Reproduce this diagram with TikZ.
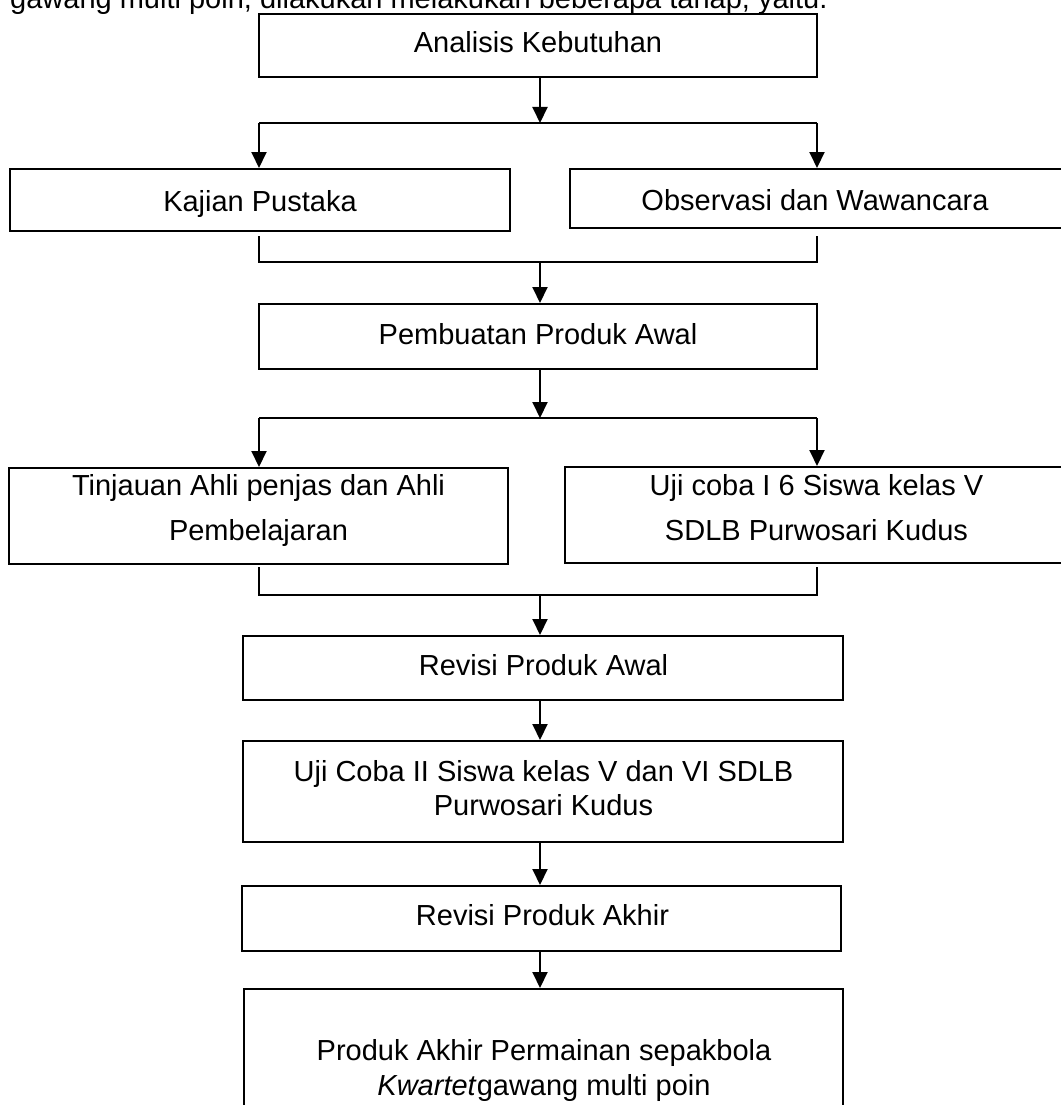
\documentclass[tikz,border=0pt]{standalone}
\usepackage{fontspec}
\setmainfont{Liberation Sans}
\usetikzlibrary{arrows.meta}
\begin{document}
\begin{tikzpicture}[x=1pt,y=-1pt,
  box/.style={draw=black,line width=2pt,rectangle,inner sep=0pt},
  txt/.style={inner sep=0pt,font=\fontsize{29}{35}\selectfont,align=center},
  conn/.style={line width=2pt},
  arr/.style={conn,-{Triangle[width=15pt,length=16pt]}}]
\useasboundingbox (0,0) rectangle (1060,1105);
% intro line (cut at the top)
\node[txt,anchor=base west] (intro) at (10,9) {gawang multi poin, dilakukan melakukan beberapa tahap, yaitu.};
% boxes
\node[box,minimum width=558pt,minimum height=63pt] (A) at (538,45.5) {};
\node[box,minimum width=500pt,minimum height=62pt] (K) at (260,200) {};
\node[box,minimum width=494pt,minimum height=59pt] (O) at (817,198.5) {};
\node[box,minimum width=558pt,minimum height=65pt] (P) at (538,336.5) {};
\node[box,minimum width=499pt,minimum height=96pt] (T) at (258.5,516) {};
\node[box,minimum width=503pt,minimum height=96pt] (U1) at (816.5,515) {};
\node[box,minimum width=600pt,minimum height=64pt] (R1) at (543,668) {};
\node[box,minimum width=600pt,minimum height=101pt] (U2) at (543,791.5) {};
\node[box,minimum width=599pt,minimum height=65pt] (R2) at (541.5,918.5) {};
\node[box,minimum width=599pt,minimum height=136pt] (F) at (543.5,1057) {};
% texts
\node[txt,anchor=base] (At) at (538,53) {Analisis Kebutuhan};
\node[txt,anchor=base] (Kt) at (260,211) {Kajian Pustaka};
\node[txt,anchor=base] (Ot) at (815,210) {Observasi dan Wawancara};
\node[txt,anchor=base] (Pt) at (538,344) {Pembuatan Produk Awal};
\node[txt,anchor=north,font=\fontsize{29}{45}\selectfont] (Tt) at (258.5,474) {Tinjauan Ahli penjas dan Ahli\\Pembelajaran};
\node[txt,anchor=north,font=\fontsize{29}{45}\selectfont] (U1t) at (816.5,474) {Uji coba I 6 Siswa kelas V\\SDLB Purwosari Kudus};
\node[txt,anchor=base] (R1t) at (543.5,675) {Revisi Produk Awal};
\node[txt,anchor=north,font=\fontsize{29}{34}\selectfont] (U2t) at (543.5,760) {Uji Coba II Siswa kelas V dan VI SDLB\\Purwosari Kudus};
\node[txt,anchor=base] (R2t) at (542.5,925) {Revisi Produk Akhir};
\node[txt,anchor=north,font=\fontsize{29}{35}\selectfont] (Ft) at (544,1039) {Produk Akhir Permainan sepakbola\\\textit{Kwartet}gawang multi poin};
% junctions
\coordinate (j1) at (540,123);
\coordinate (j1l) at (259,123);
\coordinate (j1r) at (817,123);
\coordinate (m1) at (540,262);
\coordinate (m1l) at (259,262);
\coordinate (m1r) at (817,262);
\coordinate (j2) at (540,418);
\coordinate (j2l) at (259,418);
\coordinate (j2r) at (817,418);
\coordinate (m2) at (540,595);
\coordinate (m2l) at (259,595);
\coordinate (m2r) at (817,595);
\coordinate (c) at (540,0);
% connectors
\draw[arr] (A.south -| j1) -- (j1);
\draw[conn] (j1l) -- (j1r);
\draw[arr] (j1l) -- (j1l |- K.north);
\draw[arr] (j1r) -- (j1r |- O.north);
\draw[conn] ([yshift=-4pt]m1l |- K.south) -- (m1l) -- (m1r) -- ([yshift=-7pt]m1r |- O.south);
\draw[arr] (m1) -- (m1 |- P.north);
\draw[arr] (P.south -| j2) -- (j2);
\draw[conn] (j2l) -- (j2r);
\draw[arr] (j2l) -- (j2l |- T.north);
\draw[arr] (j2r) -- (j2r |- U1.north);
\draw[conn] ([yshift=-2pt]m2l |- T.south) -- (m2l) -- (m2r) -- ([yshift=-3pt]m2r |- U1.south);
\draw[arr] (m2) -- (m2 |- R1.north);
\draw[arr] (R1.south -| c) -- (U2.north -| c);
\draw[arr] (U2.south -| c) -- (R2.north -| c);
\draw[arr] (R2.south -| c) -- (F.north -| c);
\end{tikzpicture}
\end{document}
